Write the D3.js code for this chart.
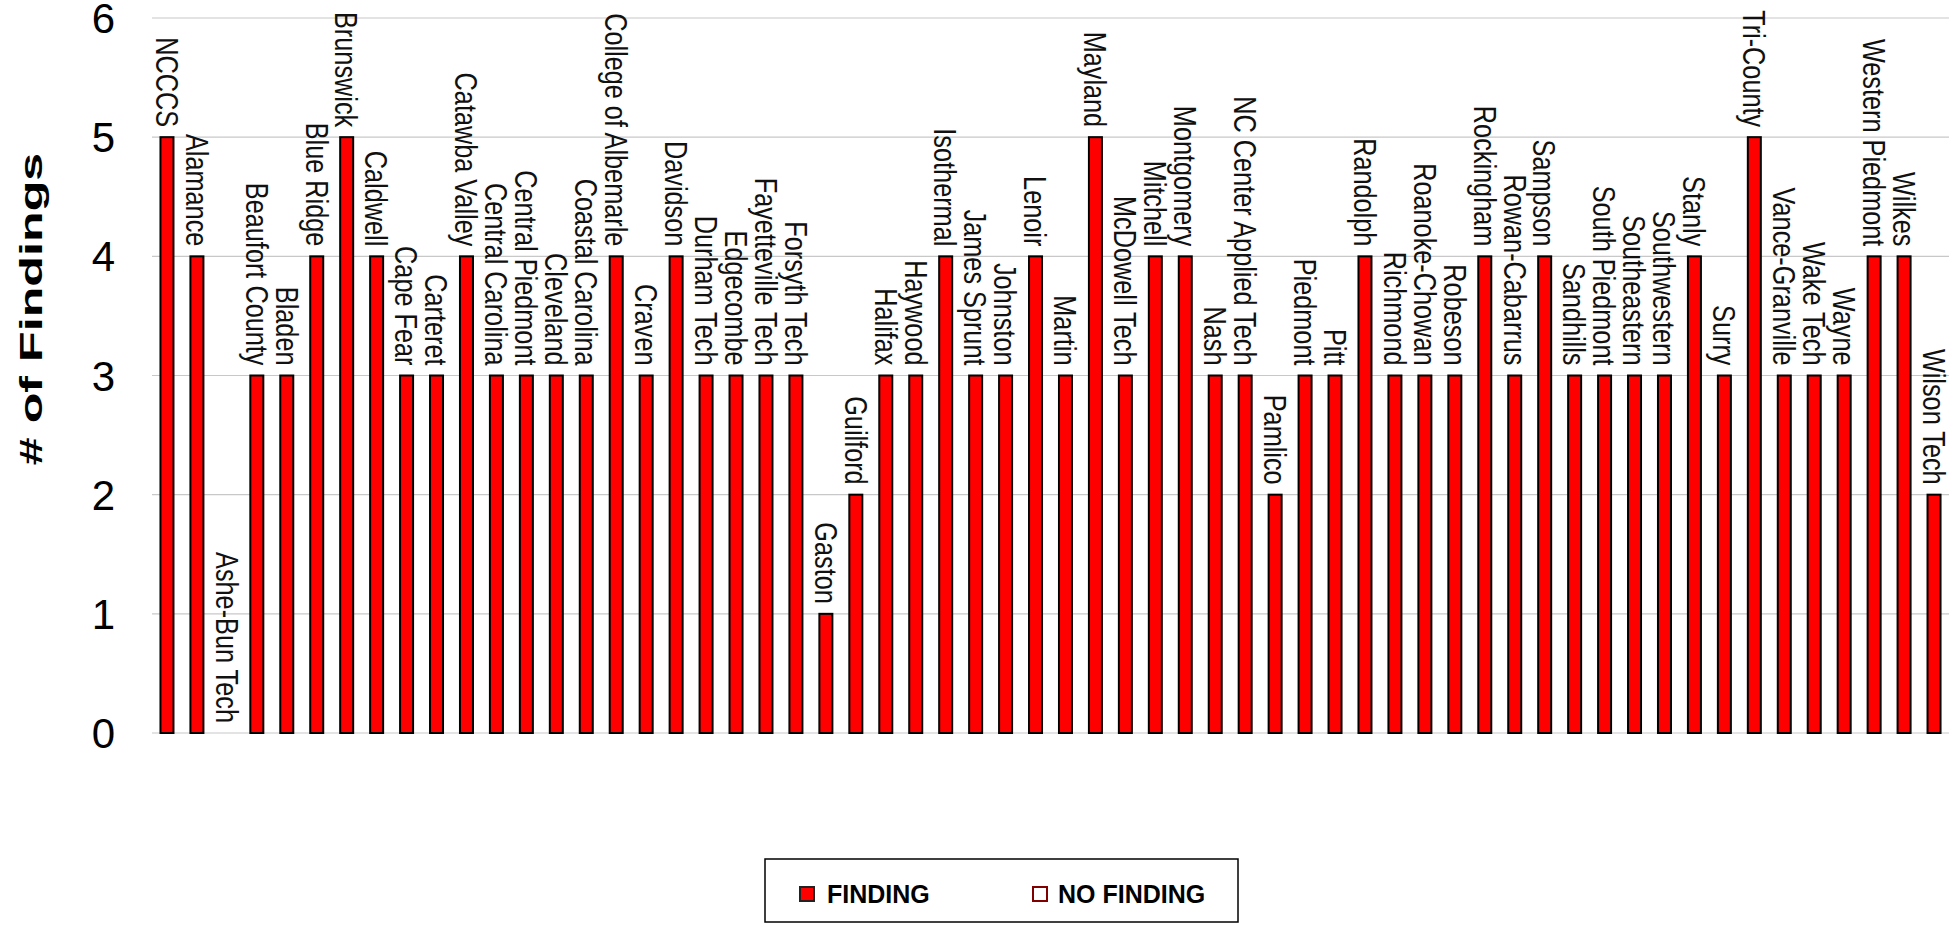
<!DOCTYPE html>
<html>
<head>
<meta charset="utf-8">
<script src="https://cdn.jsdelivr.net/npm/d3@7"></script>
<style>
  html, body { margin: 0; padding: 0; background: #fff; }
  svg { display: block; }
</style>
</head>
<body>
<svg id="chart" width="1950" height="927"></svg>
<script>
const categories = [
  "NCCCS", "Alamance", "Ashe-Bun Tech", "Beaufort County", "Bladen", "Blue Ridge",
  "Brunswick", "Caldwell", "Cape Fear", "Carteret", "Catawba Valley", "Central Carolina",
  "Central Piedmont", "Cleveland", "Coastal Carolina", "College of Albemarle", "Craven",
  "Davidson", "Durham Tech", "Edgecombe", "Fayetteville Tech", "Forsyth Tech", "Gaston",
  "Guilford", "Halifax", "Haywood", "Isothermal", "James Sprunt", "Johnston", "Lenoir",
  "Martin", "Mayland", "McDowell Tech", "Mitchell", "Montgomery", "Nash",
  "NC Center Applied Tech", "Pamlico", "Piedmont", "Pitt", "Randolph", "Richmond",
  "Roanoke-Chowan", "Robeson", "Rockingham", "Rowan-Cabarrus", "Sampson", "Sandhills",
  "South Piedmont", "Southeastern", "Southwestern", "Stanly", "Surry", "Tri-County",
  "Vance-Granville", "Wake Tech", "Wayne", "Western Piedmont", "Wilkes", "Wilson Tech"
];
const findings = [
  5, 4, 0, 3, 3, 4,
  5, 4, 3, 3, 4, 3,
  3, 3, 3, 4, 3,
  4, 3, 3, 3, 3, 1,
  2, 3, 3, 4, 3, 3, 4,
  3, 5, 3, 4, 4, 3,
  3, 2, 3, 3, 4, 3,
  3, 3, 4, 3, 4, 3,
  3, 3, 3, 4, 3, 5,
  3, 3, 3, 4, 4, 2
];
const yTicks = [0, 1, 2, 3, 4, 5, 6];
const legendLabels = ["FINDING", "NO FINDING"];
const yTitle = "# of Findings";

const svg = d3.select("#chart");

const x = d3.scaleBand().domain(categories).range([152, 1949]).paddingInner(0).paddingOuter(0);
const y = d3.scaleLinear().domain([0, 6]).range([733, 18]);

// gridlines
svg.append("g").selectAll("line").data(yTicks).join("line")
  .attr("x1", 152).attr("x2", 1949)
  .attr("y1", d => y(d)).attr("y2", d => y(d))
  .attr("stroke", "#c8c8c8").attr("stroke-width", 1.2);

// y axis tick labels
svg.append("g").selectAll("text").data(yTicks).join("text")
  .attr("x", 115).attr("y", d => y(d))
  .attr("dy", "0.36em")
  .attr("text-anchor", "end")
  .attr("font-family", "Liberation Sans, Arial, sans-serif")
  .attr("font-size", 42)
  .attr("fill", "#000")
  .text(d => d);

// y title
svg.append("text")
  .attr("transform", "translate(42,309) rotate(-90) scale(1.57,1)")
  .attr("text-anchor", "middle")
  .attr("font-family", "Liberation Sans, Arial, sans-serif")
  .attr("font-weight", "bold")
  .attr("font-size", 32)
  .attr("fill", "#000")
  .text(yTitle);

const barW = 13;
const data = categories.map((c, i) => ({ c, v: findings[i] }));

// bars
svg.append("g").selectAll("rect").data(data.filter(d => d.v > 0)).join("rect")
  .attr("x", d => x(d.c) + x.bandwidth() / 2 - barW / 2)
  .attr("width", barW)
  .attr("y", d => y(d.v))
  .attr("height", d => y(0) - y(d.v))
  .attr("fill", "#ff0000")
  .attr("stroke", "#000")
  .attr("stroke-width", 2);

// data labels
svg.append("g").selectAll("text").data(data).join("text")
  .attr("transform", d => `translate(${x(d.c) + x.bandwidth() / 2},${y(d.v) - 10}) rotate(90) scale(0.79,1)`)
  .attr("text-anchor", "end")
  .attr("dy", "0.35em")
  .attr("font-family", "Liberation Sans, Arial, sans-serif")
  .attr("font-size", 32)
  .attr("fill", "#111")
  .text(d => d.c);

// legend
const lg = svg.append("g");
lg.append("rect").attr("x", 765).attr("y", 859).attr("width", 473).attr("height", 63)
  .attr("fill", "#fff").attr("stroke", "#000").attr("stroke-width", 1.5);
const legendItems = [
  { label: legendLabels[0], mx: 800, tx: 827, fill: "#ff0000", stroke: "#222" },
  { label: legendLabels[1], mx: 1033, tx: 1058, fill: "#fff", stroke: "#800000" }
];
legendItems.forEach(it => {
  lg.append("rect").attr("x", it.mx).attr("y", 887).attr("width", 14).attr("height", 14)
    .attr("fill", it.fill).attr("stroke", it.stroke).attr("stroke-width", 2);
  lg.append("text").attr("x", it.tx).attr("y", 903)
    .attr("font-family", "Liberation Sans, Arial, sans-serif")
    .attr("font-weight", "bold").attr("font-size", 25).attr("fill", "#000")
    .text(it.label);
});
</script>
</body>
</html>
